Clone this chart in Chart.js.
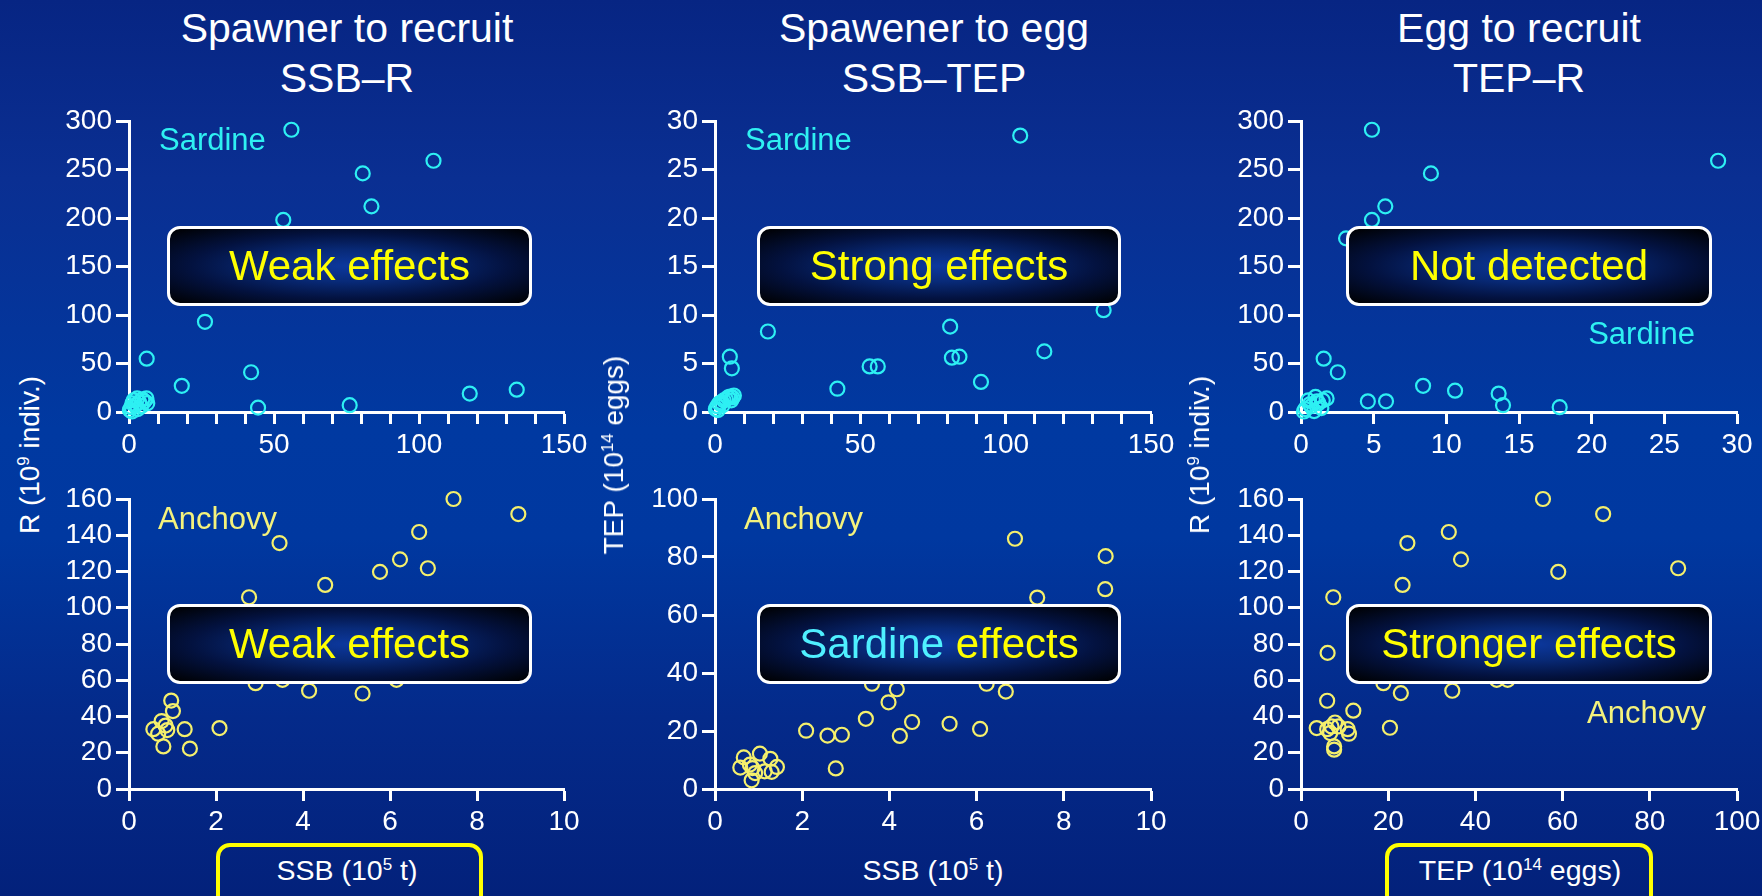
<!DOCTYPE html>
<html><head><meta charset="utf-8">
<script src="https://cdn.jsdelivr.net/npm/chart.js@4/dist/chart.umd.min.js"></script>
<style>
html,body{margin:0;padding:0;width:1762px;height:896px;overflow:hidden;}
body{position:relative;font-family:"Liberation Sans",Arial,sans-serif;
 background:linear-gradient(to bottom,#072583 0%,#0a2f92 20%,#0039a1 48%,#0038a0 60%,#042a8a 80%,#03217b 100%);}
.abs{position:absolute;white-space:nowrap;line-height:1;}
canvas{position:absolute;}
.title{font-size:41px;color:#fff;transform:translateX(-50%);}
.lab{font-size:31px;}
.sard{color:#2ff0f2;}
.anch{color:#f4f27c;}
.box{position:absolute;box-sizing:border-box;border:3px solid #fff;border-radius:13px;
 background:radial-gradient(ellipse at center,#0c389e 0%,#082a78 30%,#031240 62%,#000 100%);
 display:flex;align-items:center;justify-content:center;font-size:42px;color:#ffff00;line-height:1;white-space:nowrap;}
.xt{font-size:28.5px;color:#fff;transform:translateX(-50%);}
.yt{font-size:28px;color:#fff;transform:translate(-50%,-50%) rotate(-90deg);}
sup{font-size:0.6em;vertical-align:0.6em;line-height:0;}
.ybox{position:absolute;box-sizing:border-box;border:4.5px solid #ffff00;border-radius:14px;height:70px;}
</style></head><body>

<div class="abs title" style="left:347px;top:8px">Spawner to recruit</div>
<div class="abs title" style="left:347px;top:58px">SSB–R</div>
<div class="abs title" style="left:934px;top:8px">Spawener to egg</div>
<div class="abs title" style="left:934px;top:58px">SSB–TEP</div>
<div class="abs title" style="left:1519px;top:8px">Egg to recruit</div>
<div class="abs title" style="left:1519px;top:58px">TEP–R</div>

<canvas id="c1"></canvas><canvas id="c2"></canvas><canvas id="c3"></canvas>
<canvas id="c4"></canvas><canvas id="c5"></canvas><canvas id="c6"></canvas>

<div class="abs lab sard" style="left:159px;top:124px">Sardine</div>
<div class="abs lab sard" style="left:745px;top:124px">Sardine</div>
<div class="abs lab sard" style="left:1695px;top:318px;transform:translateX(-100%)">Sardine</div>
<div class="abs lab anch" style="left:158px;top:503px">Anchovy</div>
<div class="abs lab anch" style="left:744px;top:503px">Anchovy</div>
<div class="abs lab anch" style="left:1706px;top:697px;transform:translateX(-100%)">Anchovy</div>

<div class="box" style="left:167px;top:226px;width:365px;height:80px">Weak effects</div>
<div class="box" style="left:757px;top:226px;width:364px;height:80px">Strong effects</div>
<div class="box" style="left:1346px;top:226px;width:366px;height:80px">Not detected</div>
<div class="box" style="left:167px;top:604px;width:365px;height:80px">Weak effects</div>
<div class="box" style="left:757px;top:604px;width:364px;height:80px"><span style="color:#4ff0ff">Sardine</span>&nbsp;effects</div>
<div class="box" style="left:1346px;top:604px;width:366px;height:80px">Stronger effects</div>

<div class="abs yt" style="left:30px;top:455px">R (10<sup>9</sup> indiv.)</div>
<div class="abs yt" style="left:614px;top:455px">TEP (10<sup>14</sup> eggs)</div>
<div class="abs yt" style="left:1200px;top:455px">R (10<sup>9</sup> indiv.)</div>

<div class="ybox" style="left:216px;top:843px;width:267px"></div>
<div class="ybox" style="left:1385px;top:843px;width:268px"></div>
<div class="abs xt" style="left:347px;top:856px">SSB (10<sup>5</sup> t)</div>
<div class="abs xt" style="left:933px;top:856px">SSB (10<sup>5</sup> t)</div>
<div class="abs xt" style="left:1520px;top:856px">TEP (10<sup>14</sup> eggs)</div>

<script>
// ---- Sardine: SSB (10^5 t) vs R (10^9 indiv.)
const sardSsbR_ssb = [56, 105, 80.6, 83.6, 53.2, 91.5, 26.2, 6.1, 42.1, 18.2, 44.5, 76.1, 117.5, 133.7, 0.3, 0.8, 1.2, 1.6, 2.2, 2.8, 3.5, 4.2, 4.6, 5.3, 6.0, 6.3, 1.0, 3.0];
const sardSsbR_r   = [291, 259, 246, 212, 198, 179, 93, 55, 41, 27, 4.5, 7, 19, 23, 2, 5, 9, 12, 7, 14, 10, 6, 13, 11, 14, 9, 0.5, 3];
// ---- Sardine: SSB vs TEP (10^14 eggs)
const sardSsbTep_ssb = [105, 133.7, 80.9, 18.2, 5.1, 5.8, 81.5, 84.1, 53.2, 56.0, 113.3, 42.1, 91.5, 117.5, 76.1, 44.5, 0.3, 0.8, 1.5, 2.2, 3.0, 3.8, 4.5, 5.2, 6.0, 6.5, 1.0, 2.6, 5.6];
const sardSsbTep_tep = [28.5, 10.5, 8.8, 8.3, 5.7, 4.5, 5.6, 5.7, 4.7, 4.7, 6.25, 2.4, 3.1, 13.6, 13.9, 17.8, 0.3, 0.6, 0.9, 1.0, 1.2, 1.3, 1.5, 1.6, 1.5, 1.7, 0.2, 0.7, 1.2];
// ---- Sardine: TEP vs R
const sardTepR_tep = [4.88, 28.7, 8.94, 5.8, 4.88, 3.1, 1.56, 2.53, 8.4, 10.6, 13.6, 13.9, 17.8, 4.6, 5.85, 1.76, 1.0, 0.5, 0.3, 0.7, 1.2, 1.4, 0.9, 1.5, 0.2, 1.1, 0.6];
const sardTepR_r   = [291, 259, 246, 212, 198, 179, 55, 41, 27, 22, 19, 7, 5, 11, 11, 14, 15.5, 12, 3, 6, 9, 4, 1, 12, 0.5, 11, 8];
// ---- Anchovy: SSB vs R
const anchSsbR_ssb = [0.56, 0.67, 0.75, 0.84, 0.88, 0.79, 0.97, 1.01, 1.28, 1.40, 2.08, 2.76, 2.91, 3.46, 3.53, 4.14, 4.51, 5.37, 5.77, 6.15, 6.23, 6.67, 6.87, 7.46, 8.95];
const anchSsbR_r   = [33, 30.5, 37.5, 35, 32.5, 23.5, 48.8, 43, 33, 22.3, 33.6, 105.8, 58.4, 135.7, 60.2, 54.2, 112.6, 52.7, 119.8, 60.2, 126.7, 141.8, 121.8, 160, 151.7];
// ---- Anchovy: SSB vs TEP
const anchSsbTep_ssb = [6.88, 8.96, 8.95, 7.39, 3.6, 4.17, 3.98, 6.23, 6.67, 3.46, 4.52, 4.24, 5.38, 6.08, 2.09, 2.58, 2.91, 2.77, 0.58, 0.66, 0.8, 0.86, 0.92, 0.84, 1.03, 1.27, 1.42, 1.30, 1.14];
const anchSsbTep_tep = [86.3, 80.3, 68.9, 66, 36.3, 34.4, 29.9, 36.3, 33.6, 24.2, 23.1, 18.3, 22.5, 20.7, 20.1, 18.4, 18.7, 7.1, 7.4, 10.9, 8.4, 7.2, 5.5, 3, 12.2, 10.4, 7.6, 5.9, 6.1];
// ---- Anchovy: TEP vs R
const anchTepR_tep = [55.5, 69.3, 33.9, 24.4, 36.7, 59.0, 86.5, 23.3, 7.4, 6.1, 6.0, 12.0, 20.4, 22.9, 34.7, 18.9, 44.9, 47.4, 3.6, 6.0, 7.0, 7.8, 8.6, 10.7, 11.0, 7.6, 7.6, 6.7];
const anchTepR_r   = [160, 151.7, 141.8, 135.7, 126.7, 119.8, 121.8, 112.6, 105.8, 75.1, 48.7, 43.2, 33.8, 52.9, 54.2, 58.4, 60.2, 60.2, 33.6, 33, 34.5, 36.7, 34.5, 33, 30.5, 23.5, 21.7, 30.9];

const SARDINE = '#2ef0f3';
const ANCHOVY = '#f5f06c';
const FONT = '"Liberation Sans", Arial, sans-serif';

const PADL = 82, PADT = 25, PADR = 35, PADB = 50;

function panel(id, L, T, W, H, xs, ys, color, xMax, xStep, xLabStep, yMax, yStep) {
  const cv = document.getElementById(id);
  const cw = W + PADL + PADR, ch = H + PADT + PADB;
  cv.width = cw; cv.height = ch;
  cv.style.left = (L - PADL) + 'px'; cv.style.top = (T - PADT) + 'px';
  cv.style.width = cw + 'px'; cv.style.height = ch + 'px';
  const pts = xs.map((x, i) => ({x: x, y: ys[i]}));
  const axisCommon = {
    grid: {drawOnChartArea: false, drawTicks: true, tickWidth: 3, tickColor: '#ffffff'},
    border: {display: true, color: '#ffffff', width: 3}
  };
  new Chart(cv, {
    type: 'scatter',
    data: {datasets: [{data: pts, showLine: false, clip: false,
      pointStyle: 'circle', pointRadius: 7, pointBorderWidth: 2.2,
      pointBorderColor: color, pointBackgroundColor: 'rgba(0,0,0,0)'}]},
    options: {
      responsive: false, animation: false, devicePixelRatio: 1, events: [],
      layout: {padding: {top: PADT, right: PADR, left: 0, bottom: 0}},
      plugins: {legend: {display: false}, tooltip: {enabled: false}},
      scales: {
        x: Object.assign({}, axisCommon, {
          type: 'linear', min: 0, max: xMax,
          afterFit: s => { s.height = PADB; },
          grid: Object.assign({}, axisCommon.grid, {tickLength: 12}),
          ticks: {stepSize: xStep, autoSkip: false, maxRotation: 0, minRotation: 0,
            color: '#ffffff', font: {family: FONT, size: 28}, padding: 4,
            callback: v => (Math.abs(v / xLabStep - Math.round(v / xLabStep)) < 1e-6 ? String(v) : '')}
        }),
        y: Object.assign({}, axisCommon, {
          type: 'linear', min: 0, max: yMax,
          afterFit: s => { s.width = PADL; },
          grid: Object.assign({}, axisCommon.grid, {tickLength: 13}),
          ticks: {stepSize: yStep, autoSkip: false, color: '#ffffff',
            font: {family: FONT, size: 28}, padding: 4,
            callback: v => String(v)}
        })
      }
    }
  });
}

panel('c1', 129, 121, 435, 291, sardSsbR_ssb, sardSsbR_r, SARDINE, 150, 10, 50, 300, 50);
panel('c2', 715, 121, 436, 291, sardSsbTep_ssb, sardSsbTep_tep, SARDINE, 150, 10, 50, 30, 5);
panel('c3', 1301, 121, 436, 291, sardTepR_tep, sardTepR_r, SARDINE, 30, 5, 5, 300, 50);
panel('c4', 129, 499, 435, 290, anchSsbR_ssb, anchSsbR_r, ANCHOVY, 10, 2, 2, 160, 20);
panel('c5', 715, 499, 436, 290, anchSsbTep_ssb, anchSsbTep_tep, ANCHOVY, 10, 2, 2, 100, 20);
panel('c6', 1301, 499, 436, 290, anchTepR_tep, anchTepR_r, ANCHOVY, 100, 20, 20, 160, 20);
</script>
</body></html>
